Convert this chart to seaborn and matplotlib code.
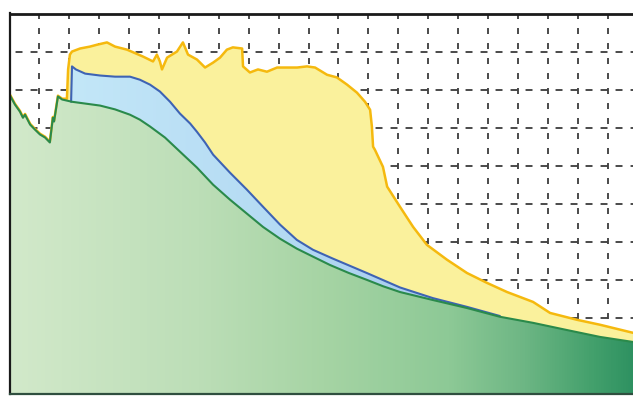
import numpy as np
import matplotlib
matplotlib.use("Agg")
import matplotlib.pyplot as plt
from matplotlib.colors import LinearSegmentedColormap
import seaborn as sns

# Lower band (green): outline of the bottom layer
green_x = [0.0, 0.18, 0.35, 0.45, 0.52, 0.69, 0.85, 1.02, 1.19, 1.35, 1.45, 1.49, 1.62,
           1.76, 2.09, 3.03, 3.53, 4.03, 4.36, 4.70, 5.20, 5.70, 6.27, 6.81, 7.37,
           7.94, 8.48, 9.05, 9.61, 10.15, 10.72, 11.35, 11.95, 12.50, 13.06, 14.16,
           15.30, 16.40, 17.51, 18.65, 19.75, 21.0]
green_y = [7.87, 7.61, 7.42, 7.26, 7.34, 7.08, 6.95, 6.82, 6.74, 6.61, 7.26, 7.16, 7.82,
           7.74, 7.68, 7.58, 7.48, 7.34, 7.21, 7.03, 6.74, 6.37, 5.95, 5.50, 5.11,
           4.74, 4.39, 4.08, 3.82, 3.61, 3.39, 3.18, 3.00, 2.83, 2.68, 2.47,
           2.26, 2.03, 1.87, 1.68, 1.50, 1.35]

# Middle band (blue): outline of the second layer
blue_x = [2.06, 2.09, 2.22, 2.53, 3.03, 3.53, 4.03, 4.36, 4.70, 5.03, 5.37, 5.70,
          6.04, 6.27, 6.54, 6.81, 7.37, 7.94, 8.48, 9.05, 9.61, 10.15, 10.81,
          11.95, 13.06, 14.16, 15.30, 16.40]
blue_y = [7.68, 8.61, 8.53, 8.42, 8.37, 8.34, 8.34, 8.26, 8.13, 7.95, 7.68, 7.37,
          7.11, 6.89, 6.61, 6.29, 5.82, 5.37, 4.92, 4.45, 4.05, 3.79, 3.56,
          3.18, 2.80, 2.52, 2.29, 2.05]

# Upper band (yellow): outline of the top layer
yellow_x = [0.0, 0.18, 0.35, 0.45, 0.52, 0.69, 0.85, 1.02, 1.19, 1.35, 1.45, 1.49,
            1.62, 1.76, 1.92, 1.96, 2.02, 2.09, 2.36, 2.69, 2.93, 3.26, 3.53, 3.93,
            4.46, 4.80, 4.93, 5.03, 5.10, 5.27, 5.60, 5.80, 5.97, 6.27, 6.54, 6.81,
            7.04, 7.27, 7.47, 7.78, 7.81, 8.04, 8.31, 8.61, 8.95, 9.28, 9.62, 9.95,
            10.22, 10.62, 10.95, 11.29, 11.62, 11.89, 12.06, 12.12, 12.16, 12.22,
            12.49, 12.63, 13.06, 13.50, 13.96, 14.63, 15.30, 15.97, 16.64, 17.51,
            18.08, 18.98, 19.75, 21.0]
yellow_y = [7.89, 7.63, 7.44, 7.28, 7.36, 7.10, 6.97, 6.84, 6.76, 6.63, 7.28, 7.18,
            7.84, 7.76, 7.76, 8.53, 8.92, 9.00, 9.08, 9.13, 9.18, 9.24, 9.13, 9.05,
            8.87, 8.74, 8.92, 8.74, 8.53, 8.84, 9.00, 9.24, 8.92, 8.79, 8.58, 8.71,
            8.84, 9.05, 9.11, 9.08, 8.61, 8.45, 8.53, 8.47, 8.58, 8.58, 8.58, 8.61,
            8.58, 8.39, 8.32, 8.13, 7.92, 7.68, 7.47, 7.03, 6.50, 6.42,
            5.97, 5.45, 4.92, 4.39, 3.92, 3.53, 3.18, 2.92, 2.68, 2.42,
            2.13, 1.95, 1.82, 1.58]

x_grid = list(range(1, 21))
y_grid = list(range(1, 10))

sns.set_style("white")
plt.rcParams["lines.scale_dashes"] = False

fig = plt.figure(figsize=(6.33, 3.96), dpi=100)
ax = fig.add_axes([9.5 / 633, 2 / 396, 21 * 29.9 / 633, 380.5 / 396])

# Dashed grid behind the filled layers
ax.set_xticks(x_grid)
ax.set_yticks(y_grid)
ax.tick_params(length=0, labelbottom=False, labelleft=False)
ax.xaxis.grid(True, color="#333333", linewidth=1.25, linestyle=(0, (4.3, 6.5)), zorder=0)
ax.yaxis.grid(True, color="#333333", linewidth=1.25, linestyle=(6.8, (5.0, 5.8)), zorder=0)
ax.set_axisbelow(True)

# Top layer
ax.fill_between(yellow_x, 0, yellow_y, facecolor="#FAF19C", edgecolor="none", zorder=2)

# Middle layer with a soft horizontal gradient
blue_poly = ax.fill_between(blue_x, 0, blue_y, facecolor="none", edgecolor="none", zorder=3)
blue_cmap = LinearSegmentedColormap.from_list("blue_band", ["#C3E7F8", "#B4DAF3", "#A2C6EC"])
blue_img = ax.imshow(np.linspace(0, 1, 256)[None, :], cmap=blue_cmap,
                     extent=[2.0, 16.5, 0, 10], aspect="auto", origin="lower", zorder=3)
blue_img.set_clip_path(blue_poly.get_paths()[0], transform=ax.transData)

# Bottom layer with a light-to-dark green gradient
green_poly = ax.fill_between(green_x, 0, green_y, facecolor="none", edgecolor="none", zorder=4)
green_cmap = LinearSegmentedColormap.from_list(
    "green_band",
    [(0.0, "#D2E9CA"), (0.3, "#BCDEB7"), (0.5, "#A6D4A4"), (0.7, "#8DC996"),
     (0.82, "#6DB684"), (0.93, "#43A06C"), (1.0, "#2C9060")])
green_img = ax.imshow(np.linspace(0, 1, 512)[None, :], cmap=green_cmap,
                      extent=[0, 21, 0, 10], aspect="auto", origin="lower", zorder=4)
green_img.set_clip_path(green_poly.get_paths()[0], transform=ax.transData)

# Outlines
sns.lineplot(x=yellow_x, y=yellow_y, ax=ax, color="#F5B90E", linewidth=1.8,
             sort=False, estimator=None, zorder=5)
sns.lineplot(x=blue_x, y=blue_y, ax=ax, color="#3E63B4", linewidth=1.5,
             sort=False, estimator=None, zorder=6)
sns.lineplot(x=green_x, y=green_y, ax=ax, color="#2A8A4B", linewidth=1.5,
             sort=False, estimator=None, zorder=7)

ax.set_xlim(0, 21)
ax.set_ylim(0, 10)
ax.set_xlabel("")
ax.set_ylabel("")

for side in ["left", "top", "bottom", "right"]:
    ax.spines[side].set_visible(True)
    ax.spines[side].set_color("#1a1a1a")
    ax.spines[side].set_zorder(10)
ax.spines["top"].set_linewidth(2.0)
ax.spines["left"].set_linewidth(1.6)
ax.spines["bottom"].set_linewidth(1.6)
ax.spines["bottom"].set_color("#2f4f3f")

fig.savefig("out.png", dpi=100)
